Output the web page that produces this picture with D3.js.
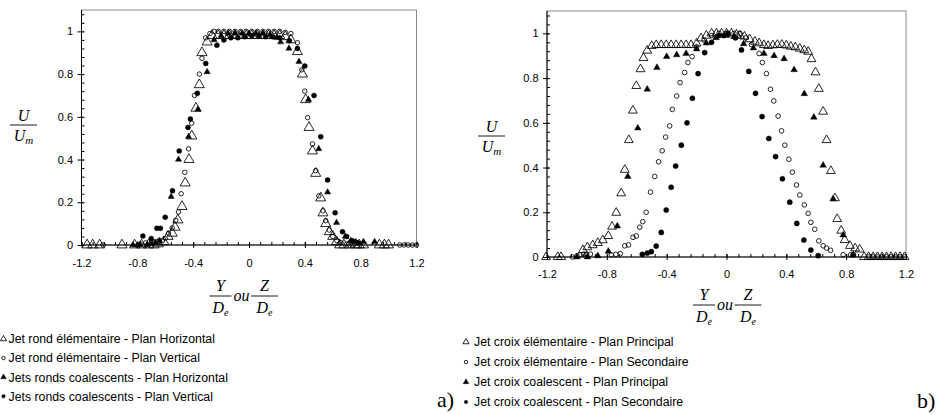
<!DOCTYPE html>
<html>
<head>
<meta charset="utf-8">
<script src="https://cdn.jsdelivr.net/npm/d3@7"></script>
<style>
  body { margin: 0; background: #fff; }
  svg { display: block; }
  .tick text { font-family: "Liberation Sans", Arial, sans-serif; font-size: 11px; fill: #000; }
</style>
</head>
<body>
<script>
// ---- data ----
const xTicks = [-1.2, -0.8, -0.4, 0, 0.4, 0.8, 1.2];
const yTicks = [0, 0.2, 0.4, 0.6, 0.8, 1];

// a) jets ronds
const rondElemH = [[-1.16,0],[-1.12,0],[-1.07,0],[-0.91,0],[-0.82,0],[-0.77,0],[-0.72,0],[-0.68,0],[-0.65,0.005],
  [-0.61,0.015],[-0.58,0.04],[-0.55,0.055],[-0.53,0.083],[-0.51,0.117],[-0.48,0.18],[-0.457,0.29],[-0.43,0.40],
  [-0.41,0.51],[-0.38,0.64],[-0.356,0.75],[-0.337,0.90],[-0.30,0.95],[-0.265,0.98],[-0.22,0.98],[-0.18,0.98],
  [-0.14,0.98],[-0.1,0.98],[-0.06,0.98],[-0.02,0.98],[0.02,0.98],[0.06,0.98],[0.1,0.98],[0.14,0.98],[0.18,0.98],
  [0.22,0.98],[0.26,0.975],[0.3,0.96],[0.347,0.905],[0.383,0.80],[0.406,0.68],[0.43,0.55],[0.455,0.44],
  [0.478,0.335],[0.514,0.22],[0.53,0.15],[0.55,0.10],[0.575,0.062],[0.60,0.04],[0.627,0.015],[0.65,0],[0.68,0],
  [0.72,0],[0.76,0],[0.79,0],[0.82,0],[0.934,0],[0.97,0],[1.0,0]];
const rondElemV = [[-1.045,0],[-0.78,0.005],[-0.74,0.01],[-0.70,0.01],[-0.66,0.015],[-0.62,0.02],[-0.60,0.03],
  [-0.577,0.055],[-0.55,0.08],[-0.525,0.115],[-0.505,0.155],[-0.486,0.24],[-0.46,0.34],[-0.433,0.45],[-0.41,0.57],
  [-0.39,0.70],[-0.356,0.80],[-0.337,0.874],[-0.31,0.97],[-0.28,0.99],[-0.25,1.0],[-0.22,1],[-0.18,1],[-0.14,1],
  [-0.1,1],[-0.06,1],[-0.02,1],[0.02,1],[0.06,1],[0.1,1],[0.14,1],[0.18,1],[0.22,1],[0.26,0.995],[0.3,0.99],
  [0.347,0.947],[0.378,0.82],[0.40,0.72],[0.42,0.596],[0.455,0.473],[0.478,0.348],[0.50,0.23],[0.53,0.16],
  [0.55,0.114],[0.575,0.07],[0.60,0.04],[0.63,0.02],[0.66,0.01],[0.70,0.005],[0.74,0],[1.08,0],[1.11,0],
  [1.14,0],[1.17,0],[1.2,0]];
const rondCoalH = [[-0.83,0],[-0.80,0],[-0.78,0],[-0.73,0],[-0.70,0.005],[-0.67,0.01],[-0.64,0.02],[-0.558,0.226],
  [-0.505,0.40],[-0.433,0.507],[-0.366,0.635],[-0.30,0.81],[-0.25,0.96],[-0.2,0.98],[-0.15,0.99],[-0.1,0.99],
  [-0.05,0.99],[0,0.99],[0.05,0.99],[0.1,0.99],[0.15,0.985],[0.2,0.97],[0.227,0.95],[0.286,0.92],[0.358,0.858],
  [0.426,0.68],[0.50,0.45],[0.563,0.247],[0.627,0.105],[0.69,0.04],[0.73,0.02],[0.766,0.015],[0.82,0.015],[0.90,0.015]];
const rondCoalV = [[-0.76,0.042],[-0.70,0.03],[-0.66,0.078],[-0.635,0.078],[-0.60,0.13],[-0.548,0.254],[-0.50,0.44],
  [-0.437,0.55],[-0.42,0.59],[-0.37,0.71],[-0.31,0.85],[-0.23,0.935],[-0.18,0.96],[-0.13,0.97],[-0.08,0.97],
  [-0.03,0.975],[0.02,0.98],[0.07,0.98],[0.12,0.975],[0.17,0.975],[0.22,0.97],[0.29,0.956],[0.347,0.92],
  [0.40,0.838],[0.466,0.70],[0.514,0.507],[0.563,0.304],[0.617,0.151],[0.67,0.062],[0.70,0.04],[0.74,0.02],[0.78,0.01]];

// b) jets croix
const croixElemP = [[-1.206,0],[-1.128,0],[-1.106,0],[-0.96,0.031],[-0.93,0.044],[-0.894,0.053],[-0.86,0.063],
  [-0.827,0.075],[-0.79,0.094],[-0.765,0.136],[-0.737,0.198],[-0.704,0.285],[-0.68,0.39],[-0.653,0.523],
  [-0.626,0.655],[-0.603,0.765],[-0.575,0.84],[-0.555,0.89],[-0.53,0.923],[-0.50,0.944],[-0.47,0.948],
  [-0.437,0.948],[-0.403,0.948],[-0.37,0.948],[-0.337,0.948],[-0.303,0.948],[-0.27,0.948],[-0.237,0.948],
  [-0.2,0.955],[-0.17,0.978],[-0.135,0.99],[-0.1,1.0],[-0.067,1.0],[-0.033,1.0],[0,1.0],[0.033,1.0],[0.067,0.995],
  [0.09,0.99],[0.12,0.986],[0.155,0.974],[0.19,0.963],[0.218,0.956],[0.25,0.948],[0.278,0.944],[0.31,0.947],
  [0.34,0.949],[0.37,0.949],[0.4,0.946],[0.43,0.941],[0.46,0.938],[0.49,0.932],[0.52,0.925],[0.546,0.918],
  [0.568,0.885],[0.595,0.826],[0.617,0.752],[0.646,0.65],[0.669,0.523],[0.698,0.385],[0.725,0.263],[0.74,0.17],
  [0.767,0.118],[0.79,0.076],[0.825,0.05],[0.86,0.039],[0.89,0.034],[0.92,0],[0.95,0],[0.98,0],[1.01,0],[1.04,0],
  [1.07,0],[1.1,0],[1.13,0],[1.16,0],[1.19,0]];
const croixElemS = [[-1.03,0],[-1.0,0.005],[-0.98,0.01],[-0.955,0.013],[-0.935,0.013],[-0.91,0.013],[-0.77,0.01],
  [-0.74,0.012],[-0.71,0.015],[-0.68,0.05],[-0.655,0.054],[-0.625,0.088],[-0.603,0.094],[-0.58,0.133],[-0.56,0.158],
  [-0.537,0.2],[-0.508,0.29],[-0.48,0.36],[-0.454,0.426],[-0.43,0.475],[-0.407,0.536],[-0.38,0.586],[-0.362,0.66],
  [-0.333,0.72],[-0.31,0.78],[-0.28,0.825],[-0.258,0.87],[-0.23,0.896],[-0.2,0.94],[-0.15,0.97],[-0.1,0.99],
  [-0.05,1.0],[0,1.0],[0.05,1.0],[0.09,1.0],[0.13,0.98],[0.167,0.95],[0.218,0.91],[0.24,0.87],[0.267,0.82],
  [0.294,0.75],[0.316,0.698],[0.345,0.63],[0.368,0.564],[0.39,0.50],[0.417,0.437],[0.44,0.379],[0.468,0.322],
  [0.49,0.277],[0.52,0.233],[0.546,0.195],[0.564,0.155],[0.59,0.124],[0.617,0.072],[0.646,0.05],[0.669,0.04],
  [0.696,0.03],[0.78,0.01],[0.83,0.01],[0.95,0],[0.98,0],[1.01,0],[1.04,0],[1.07,0],[1.1,0],[1.13,0],[1.16,0],[1.19,0]];
const croixCoalP = [[-1.0,0],[-0.93,0],[-0.86,0.005],[-0.79,0.025],[-0.73,0.138],[-0.66,0.36],[-0.593,0.576],
  [-0.53,0.75],[-0.465,0.847],[-0.40,0.896],[-0.333,0.904],[-0.27,0.91],[-0.2,0.93],[-0.135,0.956],[-0.07,0.98],
  [0,0.99],[0.05,0.985],[0.115,0.953],[0.18,0.934],[0.25,0.91],[0.318,0.90],[0.385,0.886],[0.452,0.837],[0.52,0.73],
  [0.584,0.625],[0.646,0.41],[0.713,0.26],[0.78,0.098],[0.847,0.01]];
const croixCoalS = [[-0.563,0.012],[-0.53,0.017],[-0.503,0.024],[-0.47,0.049],[-0.436,0.11],[-0.403,0.21],
  [-0.37,0.312],[-0.34,0.407],[-0.302,0.50],[-0.264,0.60],[-0.228,0.71],[-0.19,0.82],[-0.146,0.914],[-0.1,0.96],
  [-0.05,0.99],[-0.02,0.99],[0.01,1.0],[0.06,0.98],[0.1,0.926],[0.149,0.83],[0.194,0.732],[0.238,0.628],[0.283,0.53],
  [0.328,0.449],[0.374,0.35],[0.423,0.245],[0.47,0.15],[0.517,0.076],[0.564,0.031],[0.613,0.006],[0.847,0.01]];

const legendA = ["Jet rond élémentaire - Plan Horizontal", "Jet rond élémentaire - Plan Vertical",
  "Jets ronds coalescents - Plan Horizontal", "Jets ronds coalescents - Plan Vertical"];
const legendB = ["Jet croix élémentaire - Plan Principal", "Jet croix élémentaire - Plan Secondaire",
  "Jet croix coalescent - Plan Principal", "Jet croix coalescent - Plan Secondaire"];

const serif = "'Liberation Serif', 'Times New Roman', serif";
const sans = "'Liberation Sans', Arial, sans-serif";

const svg = d3.select("body").append("svg").attr("width", 941).attr("height", 415);

// marker drawing: kind = triOpen | circOpen | triFill | circFill
function marker(sel, kind, size) {
  const isTri = kind.startsWith("tri");
  const open = kind.endsWith("Open");
  sel.attr("d", d3.symbol().type(isTri ? d3.symbolTriangle : d3.symbolCircle).size(size))
    .attr("fill", open ? "none" : "#000")
    .attr("stroke", "#000")
    .attr("stroke-width", open ? 0.85 : 0.4);
}

function panel(p) {
  const x = d3.scaleLinear().domain([-1.2, 1.2]).range([p.left, p.right]);
  const y = d3.scaleLinear().domain([0, 1.1]).range([p.bottom, p.top]);
  const g = svg.append("g");

  // frame (top/right grey)
  g.append("rect")
    .attr("x", p.left).attr("y", p.top)
    .attr("width", p.right - p.left).attr("height", p.bottom - p.top)
    .attr("fill", "none").attr("stroke", "#888").attr("stroke-width", 1);

  // minor ticks (inside)
  const xMinor = d3.range(-15, 16).map(i => i * 0.08);
  const yMinor = d3.range(0, 28).map(i => i * 0.04);
  g.append("g").attr("transform", `translate(0,${p.bottom})`)
    .call(d3.axisBottom(x).tickValues(xMinor).tickSize(-3).tickFormat(""))
    .call(a => a.select(".domain").remove());
  g.append("g").attr("transform", `translate(${p.left},0)`)
    .call(d3.axisLeft(y).tickValues(yMinor).tickSize(-3).tickFormat(""))
    .call(a => a.select(".domain").remove());

  // major ticks + labels
  g.append("g").attr("transform", `translate(0,${p.bottom})`)
    .call(d3.axisBottom(x).tickValues(xTicks).tickSize(3).tickPadding(p.xPad).tickFormat(d => String(d)))
    .call(a => a.select(".domain").remove())
    .call(a => a.selectAll(".tick line").attr("y1", -3));
  g.append("g").attr("transform", `translate(${p.left},0)`)
    .call(d3.axisLeft(y).tickValues(yTicks).tickSize(4).tickPadding(4.5).tickFormat(d => String(d)))
    .call(a => a.select(".domain").remove())
    .call(a => a.selectAll(".tick line").attr("x1", 2));

  // axis lines
  g.append("line").attr("x1", p.left).attr("x2", p.right).attr("y1", p.bottom).attr("y2", p.bottom)
    .attr("stroke", "#000");
  g.append("line").attr("x1", p.left).attr("x2", p.left).attr("y1", p.top).attr("y2", p.bottom)
    .attr("stroke", "#000");

  // series
  p.series.forEach(s => {
    g.append("g").selectAll("path").data(s.data).join("path")
      .attr("transform", d => `translate(${x(d[0])},${y(d[1])})`)
      .call(marker, s.kind, s.size);
  });

  // y label  U / U_m
  const yl = g.append("g").attr("font-family", serif).attr("font-style", "italic").attr("font-size", 16)
    .attr("text-anchor", "middle");
  yl.append("text").attr("x", p.ylab.cx).attr("y", p.ylab.ly - 4.5).text("U");
  yl.append("line").attr("x1", p.ylab.cx - 13.5).attr("x2", p.ylab.cx + 13.5)
    .attr("y1", p.ylab.ly).attr("y2", p.ylab.ly).attr("stroke", "#000").attr("stroke-width", 0.9);
  const den = yl.append("text").attr("x", p.ylab.cx).attr("y", p.ylab.ly + 15.5);
  den.append("tspan").text("U");
  den.append("tspan").attr("font-size", 11).attr("dy", 3).text("m");

  // x label  Y/De ou Z/De
  const xl = g.append("g").attr("font-family", serif).attr("font-style", "italic").attr("font-size", 16)
    .attr("text-anchor", "middle");
  const c1 = p.xlab.cx - 21, c2 = p.xlab.cx + 23, ly = p.xlab.ly;
  [[c1, "Y", 22], [c2, "Z", 27]].forEach(([cx, num, w]) => {
    xl.append("text").attr("x", cx).attr("y", ly - 5).text(num);
    xl.append("line").attr("x1", cx - w / 2).attr("x2", cx + w / 2).attr("y1", ly).attr("y2", ly)
      .attr("stroke", "#000").attr("stroke-width", 0.9);
    const t = xl.append("text").attr("x", cx).attr("y", ly + 16.5);
    t.append("tspan").text("D");
    t.append("tspan").attr("font-size", 10).attr("dy", 3).text("e");
  });
  xl.append("text").attr("x", p.xlab.cx).attr("y", ly + 5).text("ou");

  // legend
  const lg = g.append("g").attr("font-family", sans).attr("font-size", 12.3);
  p.legend.forEach((label, i) => {
    const cy = p.leg.y0 + i * p.leg.dy;
    lg.append("path").attr("transform", `translate(${p.leg.sx},${cy})`)
      .call(marker, p.series[i].kind, p.leg.sizes[i]);
    lg.append("text").attr("x", p.leg.tx).attr("y", cy + 4.3).text(label);
  });

  // panel tag
  svg.append("text").attr("x", p.tag.x).attr("y", p.tag.y).attr("font-family", serif).attr("font-size", 22)
    .text(p.tag.text);
}

panel({
  left: 81.5, right: 416.5, top: 10, bottom: 245, xPad: 11,
  series: [
    { data: rondElemH, kind: "triOpen", size: 44 },
    { data: rondElemV, kind: "circOpen", size: 16 },
    { data: rondCoalH, kind: "triFill", size: 17 },
    { data: rondCoalV, kind: "circFill", size: 20 }
  ],
  ylab: { cx: 23.5, ly: 125 },
  xlab: { cx: 241.5, ly: 296 },
  legend: legendA,
  leg: { sx: 3.5, tx: 8.5, y0: 339, dy: 19.1, sizes: [16, 9, 14, 10] },
  tag: { x: 437, y: 407, text: "a)" }
});

panel({
  left: 547, right: 906, top: 11, bottom: 257, xPad: 10,
  series: [
    { data: croixElemP, kind: "triOpen", size: 34 },
    { data: croixElemS, kind: "circOpen", size: 17 },
    { data: croixCoalP, kind: "triFill", size: 19 },
    { data: croixCoalS, kind: "circFill", size: 21 }
  ],
  ylab: { cx: 491.5, ly: 136 },
  xlab: { cx: 725, ly: 305 },
  legend: legendB,
  leg: { sx: 466, tx: 474, y0: 342, dy: 20, sizes: [16, 9, 14, 10] },
  tag: { x: 917, y: 408, text: "b)" }
});
</script>
</body>
</html>
